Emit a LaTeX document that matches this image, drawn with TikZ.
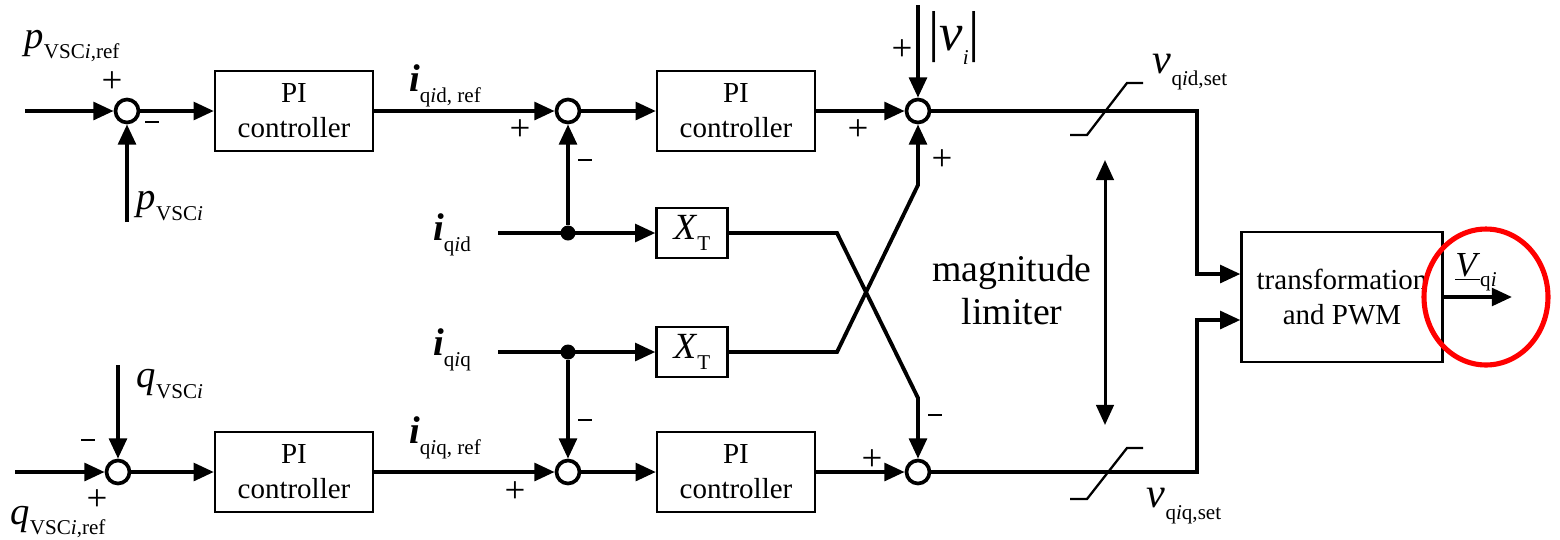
\documentclass[tikz,border=0pt]{standalone}
\usepackage{fontspec}
\setmainfont{Liberation Serif}
\usetikzlibrary{arrows.meta}

\newcommand{\sbs}[1]{\raisebox{-0.28em}{\fontsize{12}{13}\selectfont #1}}
\newcommand{\sig}[2]{\textit{#1}\sbs{#2}}
\newcommand{\vbar}{{\fontsize{32}{32}\selectfont |}}
\newcommand{\mns}{\rule[0.6ex]{7.5pt}{1.3pt}}

\tikzset{
  block/.style={draw, line width=1.3pt, minimum width=3.16cm, minimum height=1.6cm,
    align=center, font=\fontsize{16.5}{20}\selectfont},
  gain/.style={draw, line width=1.3pt, minimum width=1.42cm, minimum height=1cm,
    font=\fontsize{21}{23}\selectfont},
  sum/.style={draw, circle, line width=2.1pt, minimum size=0.46cm, inner sep=0pt},
  dot/.style={circle, fill, minimum size=0.3cm, inner sep=0pt},
  sgn/.style={inner sep=0pt, font=\fontsize{21}{21}\selectfont},
  lbl/.style={inner sep=0pt, font=\fontsize{22}{24}\selectfont},
  wire/.style={line width=2.2pt},
  lim/.style={line width=1.3pt},
}

\begin{document}
\begin{tikzpicture}[x=0.02cm, y=-0.02cm, >={Triangle[length=11.5pt,width=10pt]}]
    \useasboundingbox (0,0) rectangle (1560,539);

    % active power branch
    \coordinate (pin) at (25,111);
    \coordinate (pfb) at (127,222);
    \node[sum] (s1) at (127,111) {};
    \node[block] (pi1) at (294,111) {PI\\controller};
    \node[sum] (s2) at (568,111) {};
    \node[block] (pi2) at (736,111) {PI\\controller};
    \node[sum] (s3) at (918,111) {};
    \coordinate (vin) at (918,5);

    % decoupling
    \coordinate (iqd) at (498,233);
    \node[dot] (d1) at (568,233) {};
    \node[gain] (xt1) at (692,233) {\sig{X}{T}};
    \coordinate (iqq) at (498,352);
    \node[dot] (d2) at (568,352) {};
    \node[gain] (xt2) at (692,352) {\sig{X}{T}};

    % reactive power branch
    \coordinate (qin) at (15,472);
    \coordinate (qfb) at (118,365);
    \node[sum] (s4) at (118,472) {};
    \node[block] (pi3) at (294,472) {PI\\controller};
    \node[sum] (s5) at (568,472) {};
    \node[block] (pi4) at (736,472) {PI\\controller};
    \node[sum] (s6) at (918,472) {};

    \node[draw, line width=1.3pt, minimum width=4.02cm, minimum height=2.6cm, align=center,
      font=\fontsize{16.5}{20}\selectfont] (tp) at (1342,297) {transformation\\and PWM};
    \coordinate (jx) at (1197,297);
    \coordinate (vout) at (1512,297);

    \draw[wire,->] (pin) -- (s1);
    \draw[wire,->] (pfb) -- (s1);
    \draw[wire,->] (s1) -- (pi1);
    \draw[wire,->] (pi1) -- (s2);
    \draw[wire,->] (d1) -- (s2);
    \draw[wire,->] (s2) -- (pi2);
    \draw[wire,->] (pi2) -- (s3);
    \draw[wire,->] (vin) -- (s3);
    \draw[wire,->] (s3) -- (s3 -| jx) |- ([yshift=0.46cm]tp.west);

    \draw[wire,->] (iqd) -- (xt1);
    \draw[wire,->] (iqq) -- (xt2);
    \draw[wire,->] (xt1) -- (837,233) -- (918,398) -- (s6);
    \draw[wire,->] (xt2) -- (837,352) -- (918,185) -- (s3);

    \draw[wire,->] (qin) -- (s4);
    \draw[wire,->] (qfb) -- (s4);
    \draw[wire,->] (s4) -- (pi3);
    \draw[wire,->] (pi3) -- (s5);
    \draw[wire,->] (d2) -- (s5);
    \draw[wire,->] (s5) -- (pi4);
    \draw[wire,->] (pi4) -- (s6);
    \draw[wire,->] (s6) -- (s6 -| jx) |- ([yshift=-0.46cm]tp.west);
    \draw[wire,->] (tp) -- (vout);

    % magnitude limiter
    \draw[lim] (1070,135) -- (1087,135) -- (1127,83) -- (1143,83);
    \draw[lim] (1070,499) -- (1087,499) -- (1127,448) -- (1143,448);
    \draw[line width=1.7pt, <->] (1105,160) -- (1105,425);
    \node[align=center, font=\fontsize{21.5}{24}\selectfont] (ml) at (1012,290) {magnitude\\limiter};

    % signals and signs
    \node[lbl] (lp1) at (72,46) {\sig{p}{VSC\textit{i},ref}};
    \node[lbl] (lp2) at (170,206) {\sig{p}{VSC\textit{i}}};
    \node[lbl] (li1) at (445,86) {\sig{\textbf{i}}{q\textit{i}d, ref}};
    \node[lbl] (li2) at (452,235) {\sig{\textbf{i}}{q\textit{i}d}};
    \node[lbl] (li3) at (452,350) {\sig{\textbf{i}}{q\textit{i}q}};
    \node[lbl] (li4) at (445,438) {\sig{\textbf{i}}{q\textit{i}q, ref}};
    \node[lbl] (lq1) at (170,384) {\sig{q}{VSC\textit{i}}};
    \node[lbl] (lq2) at (58,522) {\sig{q}{VSC\textit{i},ref}};
    \node[lbl, font=\fontsize{30}{32}\selectfont] (lv) at (954,38) {\vbar\textit{v}\sbs{\textit{i}}\vbar};
    \node[lbl, font=\fontsize{24}{26}\selectfont] (lvd) at (1190,72) {\sig{v}{q\textit{i}d,set}};
    \node[lbl, font=\fontsize{24}{26}\selectfont] (lvq) at (1184,506) {\sig{v}{q\textit{i}q,set}};
    \node[lbl, font=\fontsize{20}{22}\selectfont] (lV) at (1476,272) {\underline{\textit{V}}\sbs{q\textit{i}}};

    \node[sgn] (g1) at (112,82) {+};
    \node[sgn] (g2) at (152,127) {\mns};
    \node[sgn] (g3) at (520,130) {+};
    \node[sgn] (g4) at (585,165) {\mns};
    \node[sgn] (g5) at (858,130) {+};
    \node[sgn] (g6) at (902,50) {+};
    \node[sgn] (g7) at (942,160) {+};
    \node[sgn] (g8) at (585,425) {\mns};
    \node[sgn] (g9) at (935,420) {\mns};
    \node[sgn] (g10) at (88,445) {\mns};
    \node[sgn] (g11) at (97,500) {+};
    \node[sgn] (g12) at (515,492) {+};
    \node[sgn] (g13) at (872,460) {+};

    \draw[red, line width=2.9pt] (1486,297) ellipse [x radius=1.24cm, y radius=1.36cm];
\end{tikzpicture}
\end{document}
